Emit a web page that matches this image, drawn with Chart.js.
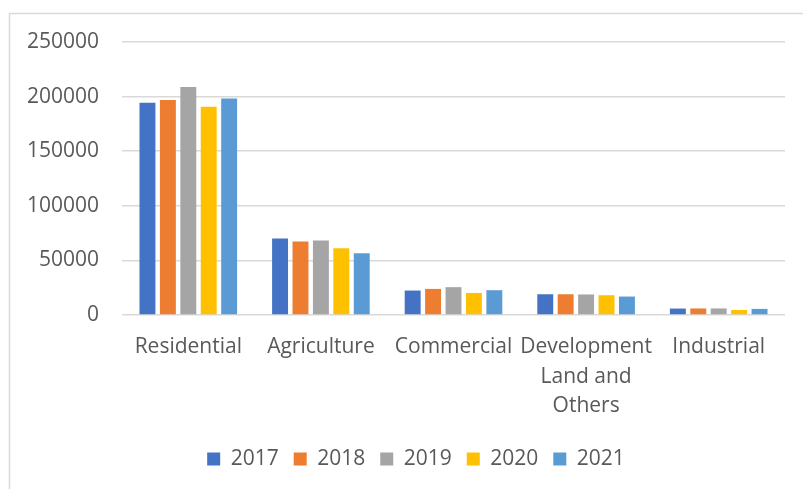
<!DOCTYPE html>
<html>
<head>
<meta charset="utf-8">
<script src="https://cdn.jsdelivr.net/npm/chart.js@4"></script>
<style>
  html, body { margin: 0; padding: 0; background: #fff; }
  #wrap { position: relative; width: 803px; height: 489px; }
</style>
</head>
<body>
<div id="wrap"><canvas id="grafico" width="803" height="489"></canvas></div>
<script>
// categorias e séries
const categorias = ['Residential', 'Agriculture', 'Commercial', ['Development', 'Land and', 'Others'], 'Industrial'];
const anos = ['2017', '2018', '2019', '2020', '2021'];
const cores = ['#4472C4', '#ED7D31', '#A5A5A5', '#FFC000', '#5B9BD5'];
const v2017 = [194400, 70000, 22400, 19000, 5900];
const v2018 = [196900, 67300, 23900, 19000, 6000];
const v2019 = [208800, 68200, 25500, 18800, 6000];
const v2020 = [190700, 61100, 20200, 18100, 4600];
const v2021 = [198300, 56500, 22700, 16900, 5600];
const series = [v2017, v2018, v2019, v2020, v2021];

const corTexto = '#595959';
const corGrade = '#d9d9d9';
const fonte = { family: 'Open Sans', size: 21 };

// moldura do gráfico (só topo e esquerda aparecem) + legenda centrada na moldura
const moldura = {
    id: 'moldura',
    afterLayout(chart) {
        const lg = chart.legend;
        lg.left = 47;
        lg.width = lg.right - lg.left;
    },
    beforeDraw(chart) {
        const c = chart.ctx;
        c.save();
        c.fillStyle = '#fff';
        c.fillRect(0, 0, chart.width, chart.height);
        c.strokeStyle = corGrade;
        c.lineWidth = 1.5;
        c.strokeRect(9.5, 13.5, 900, 600);
        c.restore();
    }
};

const ctx = document.getElementById('grafico').getContext('2d');
const grafico = new Chart(ctx, {
    type: 'bar',
    data: {
        labels: categorias,
        datasets: anos.map((ano, i) => ({
            label: ano,
            data: series[i],
            backgroundColor: cores[i],
            borderWidth: 0,
            categoryPercentage: 0.77,
            barPercentage: 0.78
        }))
    },
    options: {
        responsive: false,
        animation: false,
        layout: { padding: { top: 42, right: 18, bottom: 9.5, left: 0 } },
        plugins: {
            tooltip: { enabled: false },
            legend: {
                position: 'bottom',
                labels: {
                    boxWidth: 13,
                    boxHeight: 13,
                    padding: 15,
                    color: corTexto,
                    font: fonte
                }
            }
        },
        scales: {
            x: {
                grid: { display: false, drawTicks: false },
                border: { display: false },
                ticks: {
                    color: corTexto,
                    font: { family: 'Open Sans', size: 21, lineHeight: 1.4 },
                    padding: 17.5,
                    maxRotation: 0,
                    autoSkip: false
                },
                afterFit(scale) { scale.height = 118.5; }
            },
            y: {
                min: 0,
                max: 250000,
                grid: { color: corGrade, lineWidth: 1.5, drawTicks: false },
                border: { display: false },
                ticks: {
                    stepSize: 50000,
                    color: corTexto,
                    font: fonte,
                    padding: 23,
                    callback: v => String(v)
                },
                afterFit(scale) { scale.width = 122; }
            }
        }
    },
    plugins: [moldura]
});
</script>
</body>
</html>
